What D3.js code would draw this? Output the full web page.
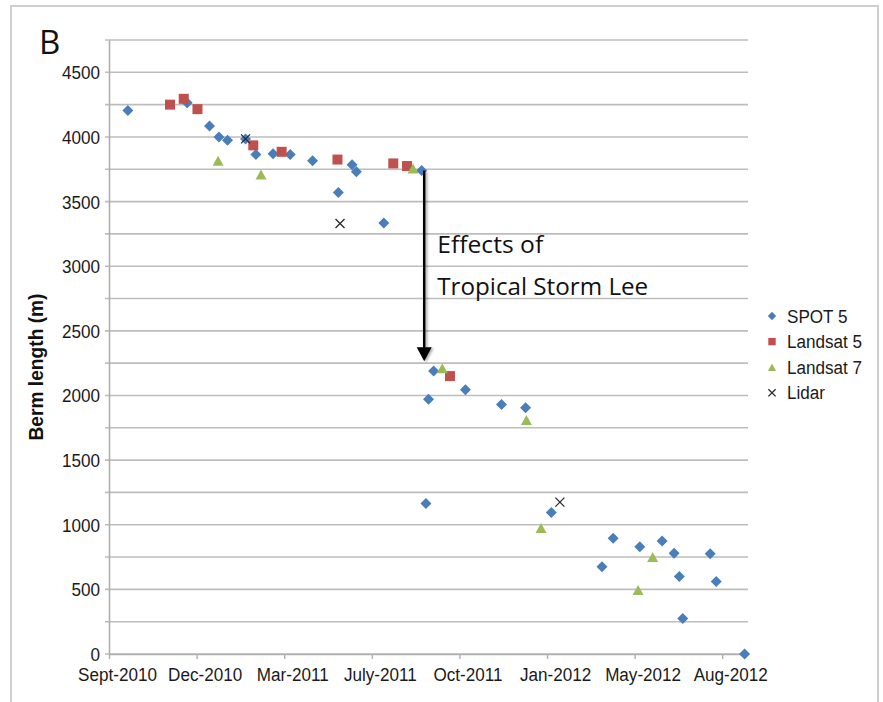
<!DOCTYPE html>
<html>
<head>
<meta charset="utf-8">
<script src="https://cdn.jsdelivr.net/npm/d3@7"></script>
<style>
  html, body { margin: 0; padding: 0; background: #fff; }
  svg { display: block; }
</style>
</head>
<body>
<svg id="chart" width="883" height="702"></svg>
<script>
// Berm length observations, by acquisition date (metres)
const spot5 = [
  ["2010-09-25", 4205], ["2010-12-03", 4265], ["2010-12-29", 4085], ["2011-01-09", 4000],
  ["2011-01-19", 3975], ["2011-02-09", 3985], ["2011-02-21", 3865], ["2011-03-13", 3870],
  ["2011-04-02", 3865], ["2011-04-28", 3815], ["2011-05-28", 3570], ["2011-06-13", 3785],
  ["2011-06-18", 3730], ["2011-07-20", 3335], ["2011-09-02", 3740], ["2011-09-07", 1165],
  ["2011-09-10", 1970], ["2011-09-16", 2190], ["2011-10-23", 2045], ["2011-12-04", 1930],
  ["2012-01-01", 1905], ["2012-01-31", 1095], ["2012-03-30", 675],  ["2012-04-12", 895],
  ["2012-05-13", 830],  ["2012-06-08", 875],  ["2012-06-22", 780],  ["2012-06-28", 600],
  ["2012-07-02", 275],  ["2012-08-03", 775],  ["2012-08-10", 560],  ["2012-09-12", 0]
];
const landsat5 = [
  ["2010-11-13", 4250], ["2010-11-29", 4295], ["2010-12-15", 4215], ["2011-02-18", 3935],
  ["2011-03-23", 3885], ["2011-05-27", 3825], ["2011-07-31", 3795], ["2011-08-16", 3775],
  ["2011-10-05", 2150]
];
const landsat7 = [
  ["2011-01-08", 3815], ["2011-02-27", 3710], ["2011-08-23", 3755], ["2011-09-26", 2210],
  ["2012-01-02", 1810], ["2012-01-19", 975],  ["2012-05-11", 495],  ["2012-05-28", 750]
];
const lidar = [
  ["2011-02-09", 3985], ["2011-05-30", 3330], ["2012-02-10", 1175]
];

// Axis setup
const xDomain = ["2010-09-03", "2012-09-16"];
const xTickDates = ["2010-09-03", "2010-12-14", "2011-03-26", "2011-07-06",
                    "2011-10-16", "2012-01-26", "2012-05-07", "2012-08-17"];
const xTickLabels = ["Sept-2010", "Dec-2010", "Mar-2011", "July-2011",
                     "Oct-2011", "Jan-2012", "May-2012", "Aug-2012"];
const yMax = 4750;
const yGridValues = [0, 250, 500, 750, 1000, 1250, 1500, 1750, 2000, 2250, 2500,
                     2750, 3000, 3250, 3500, 3750, 4000, 4250, 4500, 4750];
const yTickLabels = [0, 500, 1000, 1500, 2000, 2500, 3000, 3500, 4000, 4500];

// Storm annotation
const stormDate = "2011-09-05";
const stormFrom = 3740;
const stormTo = 2265;
const stormText = ["Effects of", "Tropical Storm Lee"];

const seriesNames = ["SPOT 5", "Landsat 5", "Landsat 7", "Lidar"];

const parse = d3.utcParse("%Y-%m-%d");
const plot = { left: 109, right: 748, top: 40, bottom: 654 };
const colors = { blue: "#4a7ebb", red: "#c0504d", green: "#9bbb59", cross: "#2a2a2a", grid: "#bdbdbd" };
const sansFont = "'Liberation Sans', Arial, Helvetica, sans-serif";
const squeeze = 0.9;

const svg = d3.select("#chart");

const x = d3.scaleUtc()
  .domain(xDomain.map(parse))
  .range([plot.left, plot.right]);
const y = d3.scaleLinear()
  .domain([0, yMax])
  .range([plot.bottom, plot.top]);

// outer frame
svg.append("rect")
  .attr("x", 11).attr("y", 6).attr("width", 867).attr("height", 720)
  .attr("fill", "#fff").attr("stroke", "#cfcfcf").attr("stroke-width", 2);

// horizontal gridlines (with short outward ticks)
svg.append("g").selectAll("line")
  .data(yGridValues)
  .join("line")
  .attr("x1", plot.left - 4).attr("x2", plot.right)
  .attr("y1", d => y(d)).attr("y2", d => y(d))
  .attr("stroke", colors.grid).attr("stroke-width", 1.6);

// y axis
const yAxis = svg.append("g")
  .attr("transform", `translate(${plot.left},0)`)
  .call(d3.axisLeft(y).tickValues(yTickLabels).tickFormat(d3.format("d")).tickSize(0).tickPadding(0));
yAxis.select(".domain").attr("stroke", "#b0b0b0").attr("stroke-width", 1.6);
yAxis.selectAll(".tick text")
  .attr("x", -9 / squeeze).attr("dy", "0.34em")
  .attr("transform", `scale(${squeeze},1)`)
  .attr("font-family", sansFont).attr("font-size", 19).attr("fill", "#1a1a1a");

// x axis
const xAxis = svg.append("g")
  .attr("transform", `translate(0,${plot.bottom})`)
  .call(d3.axisBottom(x)
    .tickValues(xTickDates.map(parse))
    .tickFormat((d, i) => xTickLabels[i])
    .tickSizeInner(5).tickSizeOuter(0));
xAxis.select(".domain").attr("stroke", "#b0b0b0").attr("stroke-width", 1.6);
xAxis.selectAll(".tick line").attr("stroke", "#b0b0b0").attr("stroke-width", 1.4);
xAxis.selectAll(".tick text")
  .attr("y", 27).attr("dy", null).attr("x", 8 / squeeze)
  .attr("transform", `scale(${squeeze},1)`)
  .attr("font-family", sansFont).attr("font-size", 19).attr("fill", "#1a1a1a");

// y axis title
svg.append("text")
  .attr("transform", "translate(43,367) rotate(-90)")
  .attr("text-anchor", "middle")
  .attr("font-family", sansFont).attr("font-weight", "bold").attr("font-size", 21)
  .attr("textLength", 147).attr("lengthAdjust", "spacingAndGlyphs")
  .attr("fill", "#111")
  .text("Berm length (m)");

// panel letter
svg.append("text")
  .attr("x", 39).attr("y", 54)
  .attr("font-family", "'Open Sans', 'Noto Sans', sans-serif").attr("font-size", 33)
  .attr("fill", "#111")
  .text("B");

// marker shapes
function markerPath(kind, s) {
  if (kind === "diamond") return `M0,${-s}L${s},0L0,${s}L${-s},0Z`;
  if (kind === "square") return `M${-s},${-s}H${s}V${s}H${-s}Z`;
  if (kind === "triangle") return `M0,${-s}L${s * 1.1},${s}L${-s * 1.1},${s}Z`;
  return `M${-s},${-s}L${s},${s}M${-s},${s}L${s},${-s}`;
}
const series = [
  { name: seriesNames[0], data: spot5,    kind: "diamond",  size: 5.5, color: colors.blue },
  { name: seriesNames[1], data: landsat5, kind: "square",   size: 5,   color: colors.red },
  { name: seriesNames[2], data: landsat7, kind: "triangle", size: 5,   color: colors.green },
  { name: seriesNames[3], data: lidar,    kind: "cross",    size: 4.5, color: colors.cross }
];

function styleMarker(sel, s) {
  if (s.kind === "cross") {
    sel.attr("fill", "none").attr("stroke", s.color).attr("stroke-width", 1.3);
  } else {
    sel.attr("fill", s.color).attr("stroke", "none");
  }
}

series.forEach(s => {
  svg.append("g").selectAll("path")
    .data(s.data)
    .join("path")
    .attr("d", markerPath(s.kind, s.size))
    .attr("transform", d => `translate(${x(parse(d[0]))},${y(d[1])})`)
    .call(sel => styleMarker(sel, s));
});

// storm arrow
const defs = svg.append("defs");
const shadow = defs.append("filter").attr("id", "arrowShadow")
  .attr("x", "-50%").attr("y", "-10%").attr("width", "200%").attr("height", "120%");
shadow.append("feDropShadow")
  .attr("dx", 2).attr("dy", 1).attr("stdDeviation", 1.2)
  .attr("flood-color", "#000").attr("flood-opacity", 0.3);

const ax = x(parse(stormDate));
const yTop = y(stormFrom), yTip = y(stormTo);
const arrow = svg.append("g").attr("filter", "url(#arrowShadow)");
arrow.append("line")
  .attr("x1", ax).attr("x2", ax)
  .attr("y1", yTop).attr("y2", yTip - 12)
  .attr("stroke", "#000").attr("stroke-width", 2.5);
arrow.append("path")
  .attr("d", `M${ax - 7.5},${yTip - 14}L${ax + 7.5},${yTip - 14}L${ax},${yTip}Z`)
  .attr("fill", "#000");

// storm label
const labelLengths = [106, 211];
svg.append("g").selectAll("text")
  .data(stormText)
  .join("text")
  .attr("x", ax + 13)
  .attr("y", (d, i) => 253 + i * 42)
  .attr("font-family", "'Open Sans', 'Noto Sans', sans-serif").attr("font-size", 23)
  .attr("textLength", (d, i) => labelLengths[i]).attr("lengthAdjust", "spacingAndGlyphs")
  .attr("fill", "#111")
  .text(d => d);

// legend
const legend = svg.append("g").attr("transform", "translate(772,316)");
const legendItems = legend.selectAll("g")
  .data(series)
  .join("g")
  .attr("transform", (d, i) => `translate(0,${i * 25.6})`);
legendItems.append("path")
  .attr("d", d => markerPath(d.kind, d.kind === "diamond" ? 4.2 : d.kind === "cross" ? 3.6 : 3.7))
  .each(function (d) { styleMarker(d3.select(this), d); });
legendItems.append("text")
  .attr("x", 15 / squeeze).attr("y", 6.5)
  .attr("transform", `scale(${squeeze},1)`)
  .attr("font-family", sansFont).attr("font-size", 19).attr("fill", "#1a1a1a")
  .text(d => d.name);
</script>
</body>
</html>
